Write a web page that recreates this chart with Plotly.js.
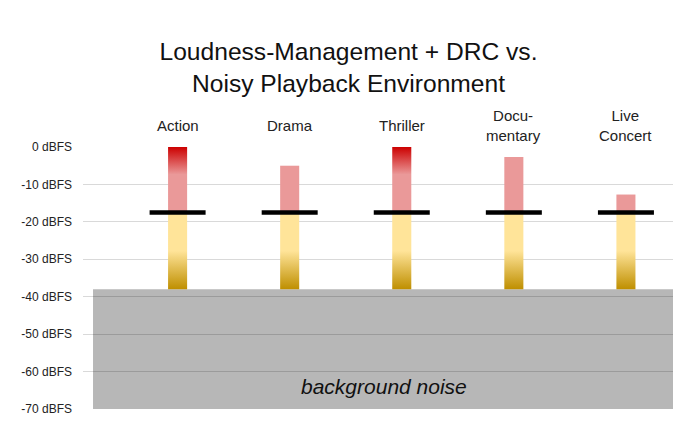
<!DOCTYPE html>
<html>
<head>
<meta charset="utf-8">
<script src="https://cdn.plot.ly/plotly-3.0.1.min.js"></script>
<style>html,body{margin:0;padding:0;background:#fff;}#chart{width:697px;height:438px;}</style>
</head>
<body>
<div id="chart"></div>
<script>
// ---- data ----
var categories = ["Action", "Drama", "Thriller", "Docu-<br>mentary", "Live<br>Concert"];
var peakLevel = [0, -5, 0, -2.7, -12.7];          // top of pink (peak) bar, dBFS
var targetLevel = [-17.5, -17.5, -17.5, -17.5, -17.5]; // loudness target (black line)
var floorLevel = [-38, -38, -38, -38, -38];       // bottom of yellow bar
var noiseLevel = -38;                             // background noise top
var noiseFloor = -70;
var yTickVals = [0, -10, -20, -30, -40, -50, -60, -70];
var yTickText = ["0 dBFS", "-10 dBFS", "-20 dBFS", "-30 dBFS", "-40 dBFS", "-50 dBFS", "-60 dBFS", "-70 dBFS"];

// ---- styling ----
var FONT = "Arial, 'Liberation Sans', sans-serif";
var HALF = 0.085;
var traces = [];

categories.forEach(function (c, i) {
  // yellow (loudness) bar
  traces.push({
    type: "scatter", mode: "none", fill: "toself", hoverinfo: "skip", showlegend: false,
    x: [i - HALF, i + HALF, i + HALF, i - HALF],
    y: [floorLevel[i], floorLevel[i], targetLevel[i], targetLevel[i]],
    fillgradient: {
      type: "vertical", start: floorLevel[i], stop: targetLevel[i],
      colorscale: [[0, "#BF8F00"], [0.5, "#FFE499"], [1, "#FFE499"]]
    }
  });
  // pink (peak) bar
  var clipped = peakLevel[i] >= 0;
  traces.push({
    type: "scatter", mode: "none", fill: "toself", hoverinfo: "skip", showlegend: false,
    x: [i - HALF, i + HALF, i + HALF, i - HALF],
    y: [targetLevel[i], targetLevel[i], peakLevel[i], peakLevel[i]],
    fillgradient: {
      type: "vertical", start: targetLevel[i], stop: peakLevel[i],
      colorscale: clipped ? [[0, "#EA9999"], [0.58, "#EA9999"], [1, "#CC0000"]]
                          : [[0, "#EA9999"], [1, "#EA9999"]]
    }
  });
});

// target lines
traces.push({
  type: "scatter", mode: "markers", hoverinfo: "skip", showlegend: false,
  x: categories.map(function (c, i) { return i; }),
  y: targetLevel,
  marker: { symbol: "line-ew", size: 40, color: "#000", line: { width: 4.5, color: "#000" } }
});

var annotations = categories.map(function (c, i) {
  return {
    text: c, x: i, xref: "x", y: 1, yref: "paper", yanchor: "middle", xanchor: "center",
    yshift: 22, showarrow: false, font: { family: FONT, size: 15, color: "#222" }
  };
});
annotations.push({
  text: "<i>background noise</i>", x: 0.51, xref: "paper", y: -64, yref: "y",
  xanchor: "center", yanchor: "middle", showarrow: false,
  font: { family: FONT, size: 21, color: "#111" }
});

var layout = {
  width: 697, height: 438,
  margin: { l: 83, r: 24, t: 147, b: 29 },
  paper_bgcolor: "#fff", plot_bgcolor: "#fff",
  title: {
    text: "Loudness-Management + DRC vs.<br>Noisy Playback Environment",
    x: 0.5, xref: "container", y: 0.862, yref: "container", yanchor: "middle",
    font: { family: FONT, size: 24.6, color: "#111" }
  },
  xaxis: { range: [-0.844, 4.42], showgrid: false, zeroline: false, showticklabels: false, fixedrange: true },
  yaxis: {
    range: [noiseFloor, 0], tickvals: yTickVals, ticktext: yTickText,
    showgrid: true, gridcolor: "rgba(0,0,0,0.15)", gridwidth: 1, zeroline: false,
    ticks: "", ticklabelstandoff: 10,
    tickfont: { family: FONT, size: 12, color: "#222" }
  },
  shapes: [{
    type: "rect", layer: "below", xref: "paper", x0: 0.017, x1: 1, yref: "y",
    y0: noiseFloor, y1: noiseLevel, fillcolor: "#B7B7B7", line: { width: 0 }
  }],
  annotations: annotations,
  showlegend: false
};

Plotly.newPlot("chart", traces, layout, { staticPlot: true, displayModeBar: false });
</script>
</body>
</html>
